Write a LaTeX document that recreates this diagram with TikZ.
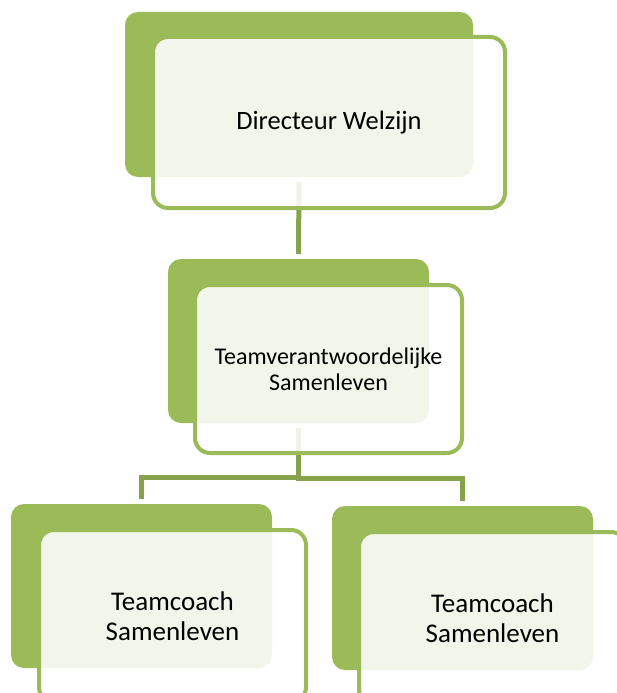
\documentclass[tikz,border=0pt]{standalone}
\usepackage{fontspec}
\setmainfont{Carlito}
\definecolor{boxgreen}{HTML}{9BBB59}
\definecolor{linkgreen}{HTML}{86A34C}
\begin{document}
\begin{tikzpicture}[x=1pt,y=-1pt,
  backbox/.style={draw=none, fill=boxgreen, rounded corners=13pt, inner sep=0pt, outer sep=0pt},
  frontbox/.style={draw=boxgreen, line width=4pt, fill=white, fill opacity=0.88, text opacity=1,
                   rounded corners=15pt, inner sep=0pt, outer sep=0pt, align=center, text=black},
  conn/.style={draw=linkgreen, line width=5pt, shorten <=5pt, shorten >=5pt}]
\useasboundingbox (0,0) rectangle (617,693);
\clip (0,0) rectangle (617,693);
% back boxes
\node[backbox, minimum width=348pt, minimum height=165pt] (b1) at (299,94.5) {};
\node[backbox, minimum width=261pt, minimum height=164pt] (b2) at (298.5,341) {};
\node[backbox, minimum width=261pt, minimum height=164pt] (b3l) at (141.5,586) {};
\node[backbox, minimum width=261pt, minimum height=164pt] (b3r) at (462.5,588) {};
% connectors
\draw[conn] (b1.south) -- (b2.north);
\draw[conn] (b2.south) -- ++(0,54) -| (b3l.north);
\draw[conn] (b2.south) -- ++(0,55) -| (b3r.north);
% front boxes
\node[frontbox, minimum width=352pt, minimum height=171pt, font=\fontsize{26.5}{30}\selectfont] (f1) at (329,122.5) {Directeur Welzijn};
\node[frontbox, minimum width=267pt, minimum height=168pt, font=\fontsize{24}{26}\selectfont] (f2) at (328.5,369) {Teamverantwoordelijke\\Samenleven};
\node[frontbox, minimum width=267pt, minimum height=172pt, font=\fontsize{27}{30}\selectfont] (f3l) at (172.5,616) {Teamcoach\\Samenleven};
\node[frontbox, minimum width=267pt, minimum height=172pt, font=\fontsize{27}{30}\selectfont] (f3r) at (492.5,618) {Teamcoach\\Samenleven};
\end{tikzpicture}
\end{document}
